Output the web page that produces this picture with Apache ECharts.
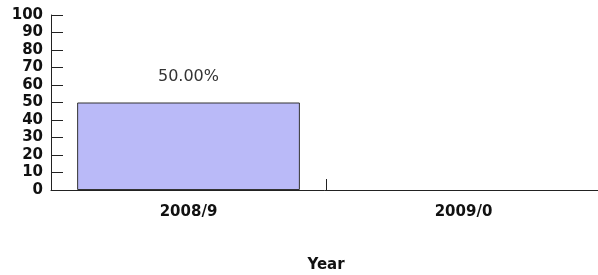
<!DOCTYPE html>
<html>
<head>
<meta charset="utf-8">
<script src="https://cdn.jsdelivr.net/npm/echarts@6/dist/echarts.min.js"></script>
<style>
html, body { margin: 0; padding: 0; background: #fff; }
#chart { width: 598px; height: 275px; }
</style>
</head>
<body>
<div id="chart"></div>
<script>
// data
var categories = ['2008/9', '2009/0'];
var values = [50, 0];
var yTicks = [0, 10, 20, 30, 40, 50, 60, 70, 80, 90, 100];

var chart = echarts.init(document.getElementById('chart'));
var font = 'Verdana, "DejaVu Sans", sans-serif';

// zero bars get no outline so nothing shows on the axis
var barData = values.map(function (v) {
    return v ? v : { value: v, itemStyle: { borderWidth: 0, opacity: 0 } };
});

chart.setOption({
    animation: false,
    grid: { left: 51, right: -3, top: 15, bottom: 85, outerBoundsMode: 'none', containLabel: false },
    xAxis: {
        type: 'category',
        data: categories,
        name: 'Year',
        nameLocation: 'middle',
        nameGap: 68,
        nameTextStyle: { color: '#111', fontWeight: 'bold', fontSize: 15, fontFamily: font },
        axisLine: { lineStyle: { color: '#222', width: 1 } },
        axisTick: { show: true, inside: true, interval: 0, length: 11, lineStyle: { color: '#222', width: 1 } },
        axisLabel: { color: '#111', fontWeight: 'bold', fontSize: 15, fontFamily: font, margin: 15 }
    },
    yAxis: {
        type: 'value',
        min: yTicks[0],
        max: yTicks[yTicks.length - 1],
        interval: 10,
        splitLine: { show: false },
        axisLine: { show: true, lineStyle: { color: '#222', width: 1 } },
        axisTick: { show: true, inside: true, length: 12, lineStyle: { color: '#222' } },
        axisLabel: { color: '#111', fontWeight: 'bold', fontSize: 15, fontFamily: font, margin: 8 }
    },
    series: [{
        type: 'bar',
        data: barData,
        barWidth: '81%',
        itemStyle: { color: '#babaf8', borderColor: '#333', borderWidth: 1 },
        label: {
            show: true,
            position: 'top',
            distance: 18,
            color: '#333',
            fontSize: 16,
            fontFamily: font,
            formatter: function (p) { return p.value ? p.value.toFixed(2) + '%' : ''; }
        }
    }]
});
</script>
</body>
</html>
